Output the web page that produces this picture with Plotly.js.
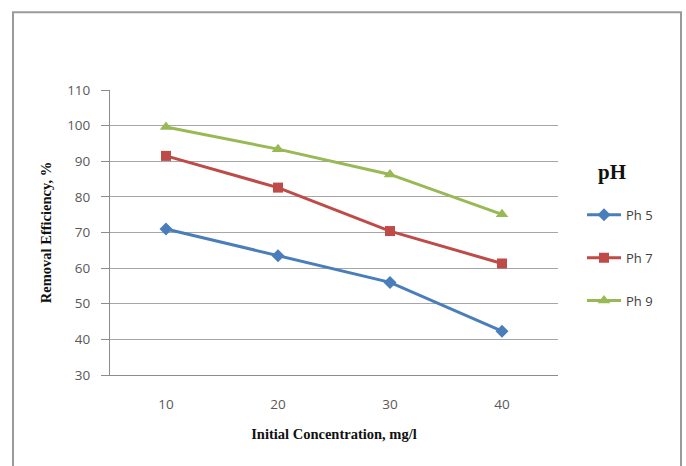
<!DOCTYPE html>
<html>
<head>
<meta charset="utf-8">
<script src="https://cdn.plot.ly/plotly-3.0.1.min.js"></script>
<style>
html,body{margin:0;padding:0;background:#fff;}
#chart{width:686px;height:466px;}
</style>
</head>
<body>
<div id="chart"></div>
<script>
const concentrations = ['10', '20', '30', '40'];
const seriesNames = ['Ph 5', 'Ph 7', 'Ph 9'];
const ph5 = [71.0, 63.5, 56.0, 42.3];
const ph7 = [91.5, 82.6, 70.4, 61.3];
const ph9 = [99.6, 93.4, 86.3, 75.1];
const yTicks = [30, 40, 50, 60, 70, 80, 90, 100, 110];
const legendTitle = 'pH';

const colors = ['#4A7EBB', '#BE4B48', '#98B954'];
const symbols = ['diamond', 'square', 'triangle-up'];
const sizes = [10, 10, 11];
const values = [ph5, ph7, ph9];

const traces = values.map((v, i) => ({
  type: 'scatter',
  mode: 'lines+markers',
  x: concentrations,
  y: v,
  name: seriesNames[i],
  legendgroup: 'g' + i,
  line: {color: colors[i], width: 3},
  marker: {color: colors[i], symbol: symbols[i], size: sizes[i]}
}));

const L = 110, R = 558, T = 90, B = 375.5;
const W = R - L, H = B - T;
const px = x => (x - L) / W;
const py = y => (B - y) / H;

const tickFont = {family: 'Open Sans, Liberation Sans, sans-serif', size: 13.5, color: '#595959'};
const titleFont = {family: 'Liberation Serif, serif', size: 14.5, color: '#111', weight: 'bold'};

const layout = {
  width: 686,
  height: 466,
  margin: {l: L, r: 686 - R, t: T, b: 466 - B, pad: 0},
  paper_bgcolor: '#ffffff',
  plot_bgcolor: '#ffffff',
  showlegend: true,
  xaxis: {
    type: 'category',
    range: [-0.5, 3.5],
    showgrid: false,
    showline: true,
    linecolor: '#8c8c8c',
    linewidth: 1,
    ticks: '',
    ticklabelstandoff: 17,
    tickfont: tickFont,
    title: {text: 'Initial Concentration, mg/l', font: titleFont, standoff: 16},
    zeroline: false
  },
  yaxis: {
    range: [30, 110],
    tickvals: yTicks,
    showgrid: true,
    gridcolor: '#a6a6a6',
    gridwidth: 1,
    showline: true,
    linecolor: '#8c8c8c',
    linewidth: 1,
    ticks: 'outside',
    ticklen: 8,
    tickcolor: '#8c8c8c',
    ticklabelstandoff: 8,
    tickfont: tickFont,
    title: {text: 'Removal Efficiency, %', font: titleFont, standoff: 12},
    zeroline: false
  },
  legend: {
    x: px(582),
    y: py(200),
    xanchor: 'left',
    yanchor: 'top',
    bgcolor: 'rgba(0,0,0,0)',
    traceorder: 'grouped',
    tracegroupgap: 23,
    itemwidth: 34,
    font: {family: 'Open Sans, Liberation Sans, sans-serif', size: 13, color: '#404040'}
  },
  annotations: [{
    text: legendTitle,
    xref: 'paper', yref: 'paper',
    x: px(612), y: py(172),
    xanchor: 'center', yanchor: 'middle',
    showarrow: false,
    font: {family: 'Liberation Serif, serif', size: 21, color: '#111', weight: 'bold'}
  }],
  shapes: [{
    type: 'rect',
    xref: 'paper', yref: 'paper',
    x0: px(13), x1: px(681), y0: py(480), y1: py(12),
    line: {color: '#9a9a9a', width: 2},
    fillcolor: 'rgba(0,0,0,0)',
    layer: 'below'
  }]
};

Plotly.newPlot('chart', traces, layout, {displayModeBar: false, staticPlot: true});
</script>
</body>
</html>
